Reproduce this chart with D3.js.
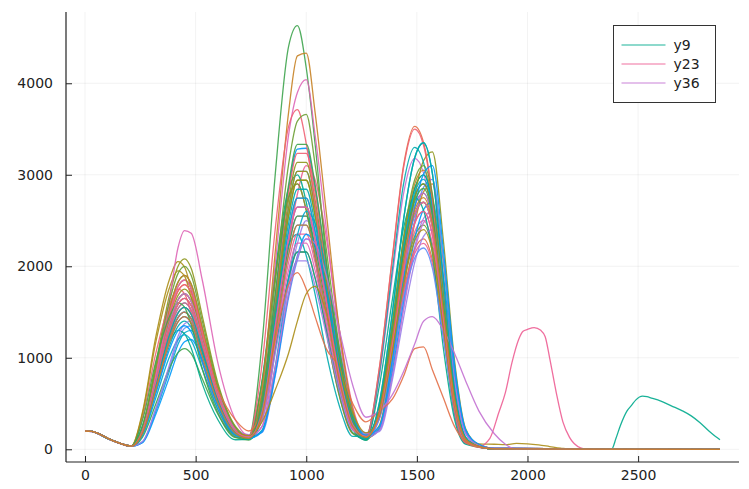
<!DOCTYPE html>
<html>
<head>
<meta charset="utf-8">
<script src="https://cdn.jsdelivr.net/npm/d3@7"></script>
<style>
  body { margin: 0; background: #fff; }
  text { font-family: "DejaVu Sans", sans-serif; }
</style>
</head>
<body>
<div id="chart"></div>
<script>
// sample positions shared by every series
const xGrid = [0,30,120,210,260,320,380,420,450,480,530,600,680,740,800,860,920,960,1000,1040,1090,1150,1210,1270,1330,1390,1440,1490,1530,1570,1620,1670,1720,1780,1850,2870];

const y1  = [200,196,100,36,180,675,1200,1440,1500,1425,1050,525,180,130,500,1675,2850,3280,3290,2850,2010,1005,335,120,435,1305,2175,2755,2900,2610,1595,580,116,30,5,0];
const y2  = [200,195,98,34,216,810,1440,1728,1800,1710,1260,630,216,150,725,1885,2755,2900,2610,2090,1305,580,174,140,883,2118,3106,3530,3354,2753,1412,424,71,40,10,0];
const y3  = [200,196,102,36,228,855,1520,1824,1900,1805,1330,665,228,140,1158,3010,4400,4630,4167,3334,2084,926,278,130,450,1350,2250,2850,3000,2700,1650,600,120,30,5,0];
const y4  = [200,195,99,35,198,743,1320,1584,1650,1568,1155,578,198,120,390,1300,2210,2548,2548,2210,1560,780,260,110,795,1908,2798,3180,3021,2480,1272,382,64,30,8,0];
const y5  = [200,196,101,37,410,1230,1845,2050,1989,1743,1128,513,164,150,450,1500,2550,2940,2940,2550,1800,900,300,140,405,1215,2025,2565,2700,2430,1485,540,108,25,5,0];
const y6  = [200,195,100,35,168,630,1120,1344,1400,1330,980,490,168,110,405,1350,2295,2646,2646,2295,1620,810,270,100,503,1508,2513,3183,3350,3015,1843,670,134,30,5,0];
const y7  = [200,194,98,34,204,765,1360,1632,1700,1615,1190,595,204,140,248,1085,2232,2790,3100,2945,2325,1302,465,150,375,1125,1875,2375,2500,2250,1375,500,100,25,5,0];
const y8  = [200,196,101,36,222,833,1480,1776,1850,1758,1295,648,222,130,420,1400,2380,2744,2744,2380,1680,840,280,120,232,928,1740,2465,2813,2900,2030,870,203,50,10,0];
const y9  = [200,195,100,35,192,720,1280,1536,1600,1520,1120,560,192,120,750,1950,2850,3000,2700,2160,1350,600,180,110,450,1350,2250,2850,3000,2700,1650,600,120,30,5,0];
const y10 = [200,196,102,37,250,936,1664,1997,2080,1976,1456,728,250,150,480,1600,2720,3136,3136,2720,1920,960,320,140,260,1040,1950,2763,3153,3250,2275,975,228,50,10,0];
const y11 = [200,195,99,34,78,416,845,1144,1274,1300,1066,585,208,110,465,1550,2635,3038,3038,2635,1860,930,310,120,420,1260,2100,2660,2800,2520,1540,560,112,30,5,0];
const y12 = [200,195,100,35,186,698,1240,1488,1550,1473,1085,543,186,130,200,875,1800,2250,2500,2375,1875,1050,375,160,208,832,1560,2210,2522,2600,1820,780,182,45,10,0];
const y13 = [200,194,99,35,81,432,878,1188,1323,1350,1107,608,216,150,184,805,1656,2070,2300,2185,1725,966,345,180,236,944,1770,2508,2862,2950,2065,885,207,50,10,0];
const y14 = [200,196,101,36,350,1050,1575,1750,1698,1488,963,438,140,120,495,1650,2805,3234,3234,2805,1980,990,330,110,390,1170,1950,2470,2600,2340,1430,520,104,25,5,0];
const y15 = [200,195,100,35,222,833,1480,1776,1850,1758,1295,648,222,140,606,2020,3434,3900,4040,3434,2424,1212,404,150,420,1260,2100,2660,2800,2520,1540,560,112,30,5,0];
const y16 = [200,196,100,36,204,765,1360,1632,1700,1615,1190,595,204,130,725,1885,2755,2900,2610,2088,1305,580,174,120,368,1103,1838,2328,2450,2205,1348,490,98,25,5,0];
const y17 = [200,195,99,35,72,384,780,1056,1176,1200,984,540,192,120,420,1400,2380,2744,2744,2380,1680,840,280,130,216,864,1620,2295,2619,2700,1890,810,189,45,10,0];
const y18 = [200,196,100,35,186,698,1240,1488,1550,1473,1085,543,186,140,330,1100,1870,2156,2156,1870,1320,660,220,150,345,1035,1725,2185,2300,2070,1265,460,92,25,5,0];
const y19 = [200,195,99,34,132,495,880,1056,1100,1045,770,385,132,100,390,1300,2210,2548,2548,2210,1560,780,260,100,435,1305,2175,2755,2900,2610,1595,580,116,30,5,0];
const y20 = [200,195,100,35,174,653,1160,1392,1450,1378,1015,508,174,120,405,1350,2295,2646,2646,2295,1620,810,270,130,204,816,1530,2168,2474,2550,1785,765,179,45,10,0];
const y21 = [200,196,101,36,390,1170,1755,1950,1892,1658,1073,488,156,150,465,1550,2635,3038,3038,2635,1860,930,310,140,405,1215,2025,2565,2700,2430,1485,540,108,60,55,0];
const y22 = [200,195,100,35,180,675,1200,1440,1500,1425,1050,525,180,130,588,1528,2233,2350,2115,1692,1058,470,141,140,825,1980,2904,3300,3135,2574,1320,396,66,35,5,0];
const y23 = [200,195,99,35,192,720,1280,1536,1600,1520,1120,560,192,130,360,1200,2040,2352,2352,2040,1440,720,240,150,330,1010,1690,2140,2250,2030,1240,450,90,30,5,0];
const y24 = [200,196,100,36,228,855,1520,1824,1900,1805,1330,665,228,140,650,2165,3680,4300,4330,3680,2598,1299,433,130,458,1373,2288,2898,3050,2745,1678,610,122,30,5,0];
const y25 = [200,195,99,35,260,780,1170,1300,1261,1105,715,325,104,110,330,1100,1870,2156,2156,1870,1320,660,220,100,688,1650,2420,2750,2613,2145,1100,330,55,25,5,0];
const y26 = [200,196,101,35,210,788,1400,1680,1750,1663,1225,613,210,130,450,1500,2550,2940,2940,2550,1800,900,300,130,435,1305,2175,2755,2900,2610,1595,580,116,30,5,0];
const y27 = [200,195,100,35,150,563,1000,1200,1250,1188,875,438,150,120,208,910,1872,2340,2600,2470,1950,1092,390,160,443,1328,2213,2803,2950,2655,1623,590,118,30,5,0];
const y28 = [200,194,98,34,84,448,910,1232,1372,1400,1148,630,224,160,315,1050,1785,2058,2058,1785,1260,630,210,170,192,768,1440,2040,2328,2400,1680,720,168,45,10,0];
const y29 = [200,195,100,35,174,653,1160,1392,1450,1378,1015,508,174,130,375,1250,2125,2450,2450,2125,1500,750,250,120,330,990,1650,2090,2200,1980,1210,440,88,25,5,0];
const y30 = [200,196,101,36,216,810,1440,1728,1800,1710,1260,630,216,140,928,2413,3526,3712,3341,2673,1670,742,223,130,875,2100,3080,3500,3325,2730,1400,420,70,40,10,0];
const y31 = [200,195,100,35,200,800,1600,2200,2390,2360,1850,950,320,150,345,1150,1955,2254,2254,1955,1380,690,230,140,405,1215,2025,2565,2700,2430,1485,540,108,30,5,0];
const y32 = [200,196,101,36,240,900,1600,1920,2000,1900,1400,700,240,140,549,1830,3111,3587,3660,3111,2196,1098,366,130,465,1395,2325,2945,3100,2790,1705,620,124,30,5,0];
const y33 = [200,195,99,35,162,608,1080,1296,1350,1283,945,473,162,120,188,823,1692,2115,2350,2233,1763,987,353,150,248,992,1860,2635,3007,3100,2170,930,217,55,10,0];
const y34 = [200,196,100,36,180,675,1200,1440,1500,1425,1100,650,320,200,450,1200,1800,1930,1750,1450,1100,900,500,300,420,550,800,1100,1120,870,560,250,80,20,5,0];
const y35 = [200,195,100,35,320,960,1440,1600,1552,1360,880,400,128,120,510,1700,2890,3332,3332,2890,2040,1020,340,120,428,1283,2138,2708,2850,2565,1568,570,114,30,5,0];
const y36 = [200,195,100,35,204,765,1360,1632,1700,1615,1190,595,204,140,250,900,1700,2100,2300,2250,1900,1300,700,350,420,600,850,1150,1400,1450,1300,1050,750,420,170,0];
const y37 = [200,196,100,36,198,743,1320,1584,1650,1568,1155,578,198,150,300,650,1050,1400,1700,1780,1500,900,400,180,360,1080,1800,2280,2400,2160,1320,480,96,25,5,0];
const y38 = [200,195,100,35,186,698,1240,1488,1550,1473,1085,543,186,120,435,1450,2465,2842,2842,2465,1740,870,290,110,503,1508,2513,3183,3350,3015,1843,670,134,30,5,0];
const y39 = [200,196,100,35,198,743,1320,1584,1650,1568,1155,578,198,130,405,1350,2295,2646,2646,2295,1620,810,270,140,390,1170,1950,2470,2600,2340,1430,520,104,25,5,0];
const y40 = [200,195,99,35,174,653,1160,1392,1450,1378,1015,508,174,120,375,1250,2125,2450,2450,2125,1500,750,250,130,413,1238,2063,2613,2750,2475,1513,550,110,30,5,0];

// late parts of a few series that leave the common grid
const tail9X  = [2380,2400,2420,2450,2470,2490,2520,2540,2560,2600,2650,2700,2740,2780,2820,2850,2870];
const tail9Y  = [0,120,260,420,480,540,580,575,560,530,475,420,365,290,200,140,105];
const tail21X = [1850,1900,1950,2000,2050,2100,2150,2200,2870];
const tail21Y = [55,50,65,60,48,30,12,0,0];
const tail23X = [1830,1870,1900,1930,1960,1980,2000,2030,2060,2080,2100,2130,2160,2190,2240,2270,2870];
const tail23Y = [120,400,620,950,1200,1290,1310,1330,1300,1230,1000,620,300,130,15,0,0];
const tail36X = [1900,1950,2870];
const tail36Y = [55,0,0];

const seriesY = [y1,y2,y3,y4,y5,y6,y7,y8,y9,y10,y11,y12,y13,y14,y15,y16,y17,y18,y19,y20,
                 y21,y22,y23,y24,y25,y26,y27,y28,y29,y30,y31,y32,y33,y34,y35,y36,y37,y38,y39,y40];
const tails = { 9: [tail9X, tail9Y], 21: [tail21X, tail21Y], 23: [tail23X, tail23Y], 36: [tail36X, tail36Y] };

const legendSeries = [9, 23, 36];
const xTicks = [0, 500, 1000, 1500, 2000, 2500];
const yTicks = [0, 1000, 2000, 3000, 4000];

const palette = ["#009AFA","#E36F47","#3EA44E","#C371D2","#AC8E18","#00AAAE","#ED5E93","#C68225",
                 "#00AA8D","#8E971E","#00A9CB","#9B7FE8","#618DF6","#F06073","#DE65B6","#6C9F33"];

let width = 749;
let height = 489;
let mLeft = 66, mRight = 739, mTop = 12, mBottom = 462;

let x = d3.scaleLinear().domain([-86, 2956]).range([mLeft, mRight]);
let y = d3.scaleLinear().domain([-139, 4779]).range([mBottom, mTop]);

let svg = d3.select('#chart').append('svg')
            .attr('width', width)
            .attr('height', height);

svg.append('defs').append('clipPath').attr('id', 'clip')
    .append('rect')
    .attr('x', mLeft).attr('y', mTop)
    .attr('width', mRight - mLeft).attr('height', mBottom - mTop);

// grid
svg.append('g').selectAll('line')
    .data(xTicks)
    .join('line')
    .attr('x1', d => x(d)).attr('x2', d => x(d))
    .attr('y1', mTop).attr('y2', mBottom)
    .attr('stroke', '#000').attr('stroke-opacity', 0.09).attr('stroke-width', 0.6);

svg.append('g').selectAll('line')
    .data(yTicks)
    .join('line')
    .attr('x1', mLeft).attr('x2', mRight)
    .attr('y1', d => y(d)).attr('y2', d => y(d))
    .attr('stroke', '#000').attr('stroke-opacity', 0.09).attr('stroke-width', 0.6);

function pointsFor(i) {
    let vals = seriesY[i - 1];
    let pts = xGrid.map((gx, k) => [gx, vals[k]]);
    if (tails[i]) {
        let tx = tails[i][0], ty = tails[i][1];
        pts = pts.filter(p => p[0] < tx[0]).concat(tx.map((v, k) => [v, ty[k]]));
    }
    return pts;
}

let line = d3.line()
    .x(d => x(d[0]))
    .y(d => y(d[1]))
    .curve(d3.curveMonotoneX);

svg.append('g').attr('clip-path', 'url(#clip)')
    .selectAll('path')
    .data(seriesY.map((s, i) => i + 1))
    .join('path')
    .attr('d', i => line(pointsFor(i)))
    .attr('fill', 'none')
    .attr('stroke', i => palette[(i - 1) % 16])
    .attr('stroke-width', 1.3)
    .attr('stroke-opacity', 0.9)
    .attr('stroke-linejoin', 'round');

// axes
let xAxis = d3.axisBottom(x).tickValues(xTicks).tickFormat(d3.format('d'))
    .tickSizeInner(-6).tickSizeOuter(0).tickPadding(8);
let yAxis = d3.axisLeft(y).tickValues(yTicks).tickFormat(d3.format('d'))
    .tickSizeInner(-6).tickSizeOuter(0).tickPadding(13);

let gx = svg.append('g').attr('transform', `translate(0,${mBottom})`).call(xAxis);
let gy = svg.append('g').attr('transform', `translate(${mLeft},0)`).call(yAxis);

[gx, gy].forEach(g => {
    g.select('.domain').attr('stroke', '#222').attr('stroke-width', 1.2);
    g.selectAll('.tick line').attr('stroke', '#222').attr('stroke-width', 1);
    g.selectAll('.tick text').attr('fill', '#222').attr('font-size', 14)
        .attr('font-family', '"DejaVu Sans", sans-serif');
});
gx.select('.domain').attr('d', `M${mLeft},0H${mRight}`);
gy.select('.domain').attr('d', `M0,${mTop}V${mBottom}`);

// legend
let legend = svg.append('g').attr('transform', 'translate(613.5,25.5)');
legend.append('rect')
    .attr('width', 102).attr('height', 77)
    .attr('fill', '#fff').attr('stroke', '#333').attr('stroke-width', 1);

let items = legend.selectAll('g')
    .data(legendSeries)
    .join('g')
    .attr('transform', (d, k) => `translate(0,${19.5 + k * 19})`);

items.append('line')
    .attr('x1', 8).attr('x2', 52)
    .attr('stroke', d => palette[(d - 1) % 16])
    .attr('stroke-width', 1.5)
    .attr('stroke-opacity', 0.6);

items.append('text')
    .attr('x', 60).attr('dy', '0.35em')
    .attr('font-size', 14)
    .attr('fill', '#222')
    .text(d => 'y' + d);
</script>
</body>
</html>
